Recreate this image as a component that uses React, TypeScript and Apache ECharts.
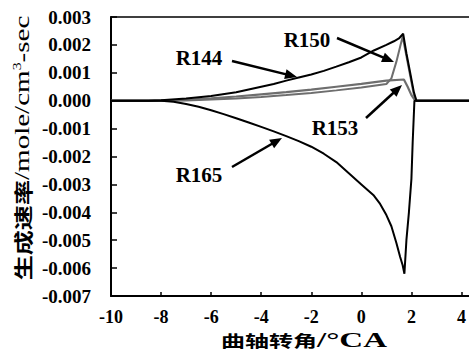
import React, { useEffect, useRef } from "react";
import * as echarts from "echarts";

// ---- data ----
const xTicks = [-10, -8, -6, -4, -2, 0, 2, 4];
const yTicks = [0.003, 0.002, 0.001, 0.0, -0.001, -0.002, -0.003, -0.004, -0.005, -0.006, -0.007];

const r144X = [-10, -8.5, -8, -7, -6, -5, -4.5, -4, -3.5, -3, -2.5, -2, -1.5, -1, -0.5, 0, 0.5, 1, 1.3, 1.5, 1.67, 1.8, 1.95, 2.1, 2.2, 4.3];
const r144Y = [0, 0, 0.00002, 0.00008, 0.00017, 0.0003, 0.0004, 0.0005, 0.0006, 0.00072, 0.00083, 0.00094, 0.00107, 0.00122, 0.00138, 0.00155, 0.0018, 0.002, 0.00213, 0.00223, 0.0024, 0.0017, 0.001, 0.0003, 0, 0];

const r150X = [-10, -8, -7, -6, -5, -4, -3, -2, -1, 0, 1, 1.2, 1.4, 1.65, 1.8, 1.95, 2.1, 2.2, 4.3];
const r150Y = [0, 0, 0.00001, 0.00004, 0.00008, 0.00013, 0.0002, 0.00028, 0.00037, 0.00047, 0.0006, 0.0008, 0.0014, 0.0023, 0.0016, 0.0009, 0.0002, 0, 0];

const r153X = [-10, -8, -7, -6, -5, -4, -3, -2, -1, 0, 1, 1.7, 1.85, 2.0, 2.15, 4.3];
const r153Y = [0, 0, 0.00003, 0.00008, 0.00015, 0.00023, 0.00031, 0.0004, 0.0005, 0.0006, 0.00072, 0.00076, 0.0005, 0.0002, 0, 0];

const r165X = [-10, -8, -7.5, -7, -6.5, -6, -5.5, -5, -4.5, -4, -3.5, -3, -2.5, -2, -1.5, -1, -0.5, 0, 0.25, 0.5, 0.75, 1, 1.2, 1.4, 1.55, 1.65, 1.72, 1.8, 1.9, 2.0, 2.05, 2.12, 4.3];
const r165Y = [0, 0, -0.00004, -0.00012, -0.00022, -0.00034, -0.00048, -0.00063, -0.00078, -0.00094, -0.0011, -0.00127, -0.00145, -0.00165, -0.0019, -0.0022, -0.0026, -0.003, -0.0032, -0.0034, -0.0037, -0.0041, -0.0045, -0.0051, -0.0056, -0.0059, -0.0062, -0.005, -0.004, -0.0028, -0.0015, 0, 0];

const seriesNames = ["R144", "R150", "R153", "R165"];

const pairs = (xs: number[], ys: number[]) => xs.map((x, i) => [x, ys[i]]);

function arrow(x1: number, y1: number, x2: number, y2: number) {
  const dx = x2 - x1;
  const dy = y2 - y1;
  const len = Math.sqrt(dx * dx + dy * dy);
  const ux = dx / len;
  const uy = dy / len;
  const head = 12;
  const half = 5;
  const bx = x2 - ux * head;
  const by = y2 - uy * head;
  return [
    {
      type: "line",
      shape: { x1, y1, x2: bx + ux * 2, y2: by + uy * 2 },
      style: { stroke: "#000", lineWidth: 2.5 },
      silent: true,
    },
    {
      type: "polygon",
      shape: {
        points: [
          [x2, y2],
          [bx - uy * half, by + ux * half],
          [bx + uy * half, by - ux * half],
        ],
      },
      style: { fill: "#000" },
      silent: true,
    },
  ];
}

function label(text: string, x: number, y: number) {
  return {
    type: "text",
    x,
    y,
    style: {
      text,
      font: "bold 21px Liberation Serif",
      fill: "#000",
      textAlign: "center",
      textVerticalAlign: "middle",
    },
    silent: true,
  };
}

export default function App() {
  const ref = useRef<HTMLDivElement>(null);
  useEffect(() => {
    if (!ref.current) return;
    const chart = echarts.init(ref.current, undefined, { renderer: "svg" });
    const font = { fontFamily: "Liberation Serif", fontWeight: "bold" as const, color: "#000" };
    const lineCommon = { type: "line" as const, showSymbol: false };
    chart.setOption({
      animation: false,
      backgroundColor: "#fff",
      textStyle: { fontFamily: "Liberation Serif" },
      grid: { left: 111, right: 0, top: 17, bottom: 65, containLabel: false },
      xAxis: [
        {
          type: "value",
          min: -10,
          max: 4.3,
          interval: 2,
          axisLine: { show: true, onZero: false, lineStyle: { color: "#000", width: 2 } },
          axisTick: { show: true, inside: true, length: 4, lineStyle: { color: "#000", width: 1.5 } },
          axisLabel: {
            ...font,
            fontSize: 18,
            margin: 12,
            showMaxLabel: false,
            formatter: (v: number) => (xTicks.includes(Math.round(v)) ? String(Math.round(v)) : ""),
          },
          splitLine: { show: false },
        },
        {
          type: "value",
          position: "top",
          min: -10,
          max: 4.3,
          axisLine: { show: true, onZero: false, lineStyle: { color: "#000", width: 1.5 } },
          axisTick: { show: false },
          axisLabel: { show: false },
          splitLine: { show: false },
        },
      ],
      yAxis: {
        type: "value",
        min: yTicks[yTicks.length - 1],
        max: yTicks[0],
        interval: 0.001,
        axisLine: { show: true, onZero: false, lineStyle: { color: "#000", width: 2 } },
        axisTick: { show: true, inside: true, length: 6, lineStyle: { color: "#000", width: 1.5 } },
        axisLabel: {
          ...font,
          fontSize: 19,
          margin: 20,
          formatter: (v: number) => {
            const s = v.toFixed(3);
            return s === "-0.000" ? "0.000" : s;
          },
        },
        splitLine: { show: false },
      },
      series: [
        {
          ...lineCommon,
          name: seriesNames[0],
          data: pairs(r144X, r144Y),
          lineStyle: { color: "#000", width: 2 },
          z: 4,
        },
        {
          ...lineCommon,
          name: seriesNames[1],
          data: pairs(r150X, r150Y),
          lineStyle: { color: "#6e6e6e", width: 2 },
          z: 3,
        },
        {
          ...lineCommon,
          name: seriesNames[2],
          data: pairs(r153X, r153Y),
          lineStyle: { color: "#6e6e6e", width: 2.2 },
          z: 3,
        },
        {
          ...lineCommon,
          name: seriesNames[3],
          data: pairs(r165X, r165Y),
          lineStyle: { color: "#000", width: 2 },
          z: 4,
        },
      ],
      graphic: [
        label(seriesNames[0], 199, 58),
        label(seriesNames[1], 307, 40),
        label(seriesNames[2], 335, 128),
        label(seriesNames[3], 199, 175),
        ...arrow(232, 61, 297, 77),
        ...arrow(337, 38, 394, 62),
        ...arrow(366, 118, 402, 85),
        ...arrow(232, 167, 282, 138),
        {
          type: "text",
          x: 304,
          y: 340,
          scaleX: 1.5,
          style: {
            text: "{a|曲轴转角}{b|/°CA}",
            textAlign: "center",
            textVerticalAlign: "middle",
            fill: "#000",
            rich: {
              a: { fontFamily: "Noto Sans CJK SC", fontSize: 16, fontWeight: "bold", fill: "#000" },
              b: { fontFamily: "Liberation Serif", fontSize: 22, fontWeight: "bold", fill: "#000" },
            },
          },
          silent: true,
        },
        {
          type: "text",
          x: 22,
          y: 148,
          rotation: Math.PI / 2,
          scaleX: 1.32,
          style: {
            text: "{a|生成速率}{b|/mole/cm}{s|3}{b|-sec}",
            textAlign: "center",
            textVerticalAlign: "middle",
            fill: "#000",
            rich: {
              a: { fontFamily: "Noto Sans CJK SC", fontSize: 19, fontWeight: "bold", fill: "#000" },
              b: { fontFamily: "Liberation Serif", fontSize: 22, fill: "#000" },
              s: { fontFamily: "Liberation Serif", fontSize: 12, fill: "#000", verticalAlign: "top" },
            },
          },
          silent: true,
        },
      ],
    });
    return () => chart.dispose();
  }, []);
  return (
    <div
      ref={ref}
      style={{ position: "fixed", left: 0, top: 0, width: 469, height: 361, background: "#fff" }}
    />
  );
}
